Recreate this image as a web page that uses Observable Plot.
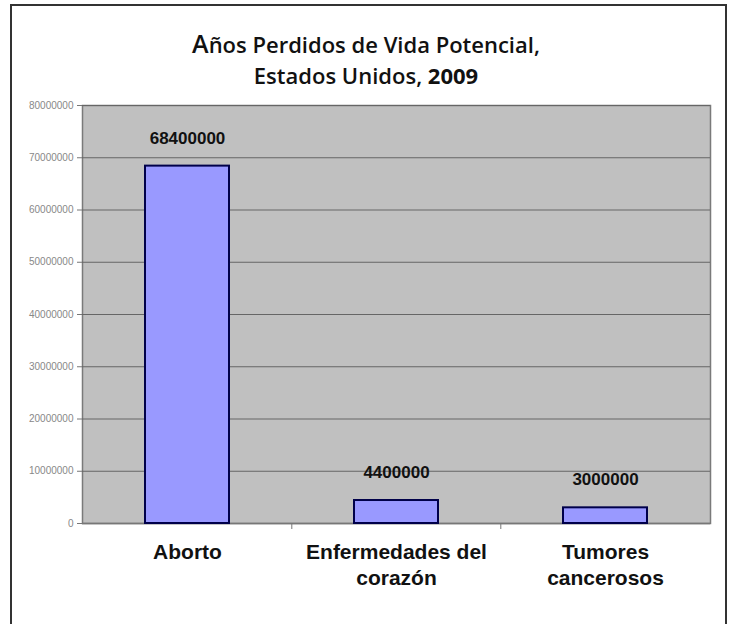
<!DOCTYPE html>
<html>
<head>
<meta charset="utf-8">
<script src="https://cdn.jsdelivr.net/npm/d3@7"></script>
<script src="https://cdn.jsdelivr.net/npm/@observablehq/plot@0.6"></script>
<style>
  html, body { margin: 0; padding: 0; background: #fff; width: 732px; height: 624px; overflow: hidden; }
  #frame { position: absolute; left: 10px; top: 4px; width: 717px; height: 700px; border: 2px solid #333; box-sizing: border-box; }
  #title { position: absolute; left: 0; top: 28px; width: 732px; text-align: center; font-family: "Open Sans", Lato, sans-serif; font-size: 22px; font-weight: 600; line-height: 31px; color: #111; }
  #title .big { font-size: 25px; }
  #title .bold { font-weight: 700; }
  #chart { position: absolute; left: 0; top: 100px; }
</style>
</head>
<body>
<div id="frame"></div>
<div id="title"><span class="big">A</span>ños Perdidos de Vida Potencial,<br>Estados Unidos, <span class="bold">2009</span></div>
<div id="chart"></div>
<script>
const categories = ["Aborto", "Enfermedades del corazón", "Tumores cancerosos"];
const categoryLabels = ["Aborto", "Enfermedades del\ncorazón", "Tumores\ncancerosos"];
const values = [68400000, 4400000, 3000000];
const yTicks = [0, 10000000, 20000000, 30000000, 40000000, 50000000, 60000000, 70000000, 80000000];

const data = categories.map((c, i) => ({category: c, value: values[i]}));
const labelOf = new Map(categories.map((c, i) => [c, categoryLabels[i]]));

const chart = Plot.plot({
  width: 732,
  height: 524,
  marginTop: 5,
  marginBottom: 101,
  marginLeft: 82,
  marginRight: 22,
  style: {background: "transparent", overflow: "visible"},
  x: {domain: categories, paddingInner: 0.6, paddingOuter: 0.3, align: 0.5},
  y: {domain: [0, 80000000]},
  marks: [
    Plot.frame({fill: "#c0c0c0", stroke: "#7a7a7a", strokeWidth: 1.5}),
    Plot.gridY(yTicks, {stroke: "#666", strokeOpacity: 1, strokeWidth: 1}),
    Plot.ruleY([0], {stroke: "#777", strokeWidth: 1.5}),
    Plot.ruleX(categories.slice(1), {x: d => d, y1: 0, y2: 0, insetBottom: -6, dx: -104.7, stroke: "#777", strokeWidth: 1}),
    Plot.barY(data, {x: "category", y: "value", fill: "#9999ff", stroke: "#00004a", strokeWidth: 2}),
    Plot.text(data, {x: "category", y: "value", text: d => String(d.value), dy: -28, fontSize: 17, fontWeight: "bold", fontFamily: "Arial, 'Liberation Sans', sans-serif", fill: "#111"}),
    Plot.axisY(yTicks, {
      tickFormat: d => String(d),
      tickSize: 5,
      tickPadding: 4,
      stroke: "#777",
      fill: "#888",
      fontSize: 10,
      fontFamily: "Arial, 'Liberation Sans', sans-serif",
      label: null
    }),
    Plot.axisX({
      tickFormat: d => labelOf.get(d),
      tickSize: 0,
      tickPadding: 17,
      fontSize: 21,
      fontWeight: "bold",
      lineHeight: 1.25,
      fill: "#111",
      fontFamily: "Arial, 'Liberation Sans', sans-serif",
      label: null
    })
  ]
});
document.getElementById("chart").appendChild(chart);
</script>
</body>
</html>
